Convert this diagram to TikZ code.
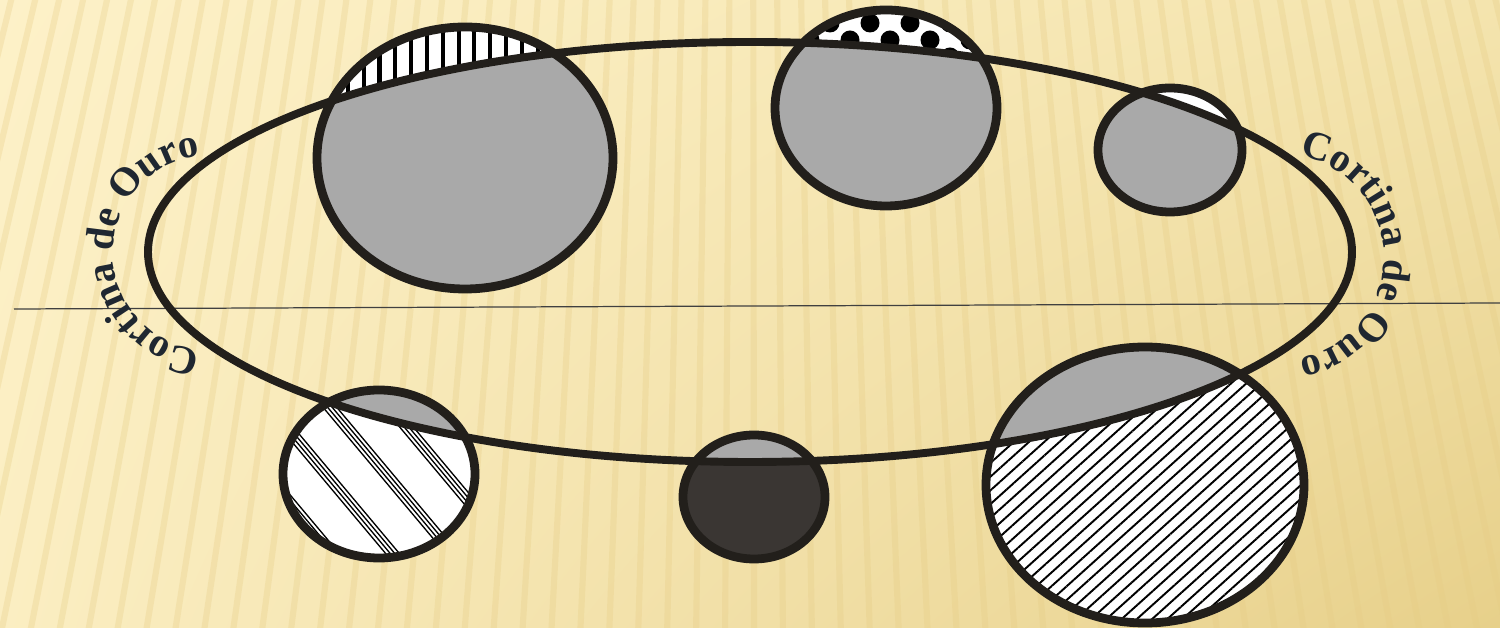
\documentclass[tikz,border=0pt]{standalone}
\usepackage{fontspec}
\newfontfamily\curtainfont{Liberation Serif}
\usepackage{tikz}
\usetikzlibrary{patterns.meta,decorations.text,shadings}
\definecolor{rimblack}{HTML}{221F1B}
\definecolor{capgray}{HTML}{A9A9A9}
\definecolor{darkcap}{HTML}{3A3633}
\definecolor{inkblue}{HTML}{1F2731}
\definecolor{paperUL}{HTML}{FDF1C8}
\definecolor{paperUR}{HTML}{F4E4AE}
\definecolor{paperLL}{HTML}{FBEEC2}
\definecolor{paperLR}{HTML}{E7D08A}
\definecolor{stripegold}{HTML}{E6CC84}
\tikzset{
  rim/.style={draw=rimblack,line width=5pt},
  orbit/.style={draw=rimblack,line width=4.5pt},
  hairline/.style={draw=black!75,line width=.7pt},
  stripe/.style={draw=stripegold,line width=3.5pt,opacity=.3},
  vlines/.style={pattern={Lines[angle=90,distance=9pt,line width=2.3pt]},pattern color=black},
  slines/.style={pattern={Lines[angle=42,distance=5.8pt,line width=1.1pt]},pattern color=black},
  curtain/.style={decorate,decoration={text along path,text align=center,text color=inkblue,
    text={|\curtainfont\bfseries\fontsize{23}{27}\selectfont|Cortina de Ouro}}}
}

\begin{document}
\begin{tikzpicture}[x=0.02cm,y=0.02cm]
  \useasboundingbox (0,0) rectangle (1500,628);
  % paper
  \shade[upper left=paperUL,upper right=paperUR,lower left=paperLL,lower right=paperLR] (0,0) rectangle (1500,628);
  \begin{scope}
    \clip (0,0) rectangle (1500,628);
    \foreach \x in {-232,-203,...,1740}{
      \pgfmathsetmacro\xt{\x+(750-\x)*0.1778}
      \draw[stripe] (\x,-10) -- (\xt,640);
    }
  \end{scope}

  \coordinate (orb) at (750,376);
  \coordinate (c1) at (465,470);
  \coordinate (c2) at (886,520);
  \coordinate (c3) at (1170,478);
  \coordinate (c4) at (379,154);
  \coordinate (c5) at (754,131);
  \coordinate (c6) at (1145,143);
  \coordinate (lineL) at (14,319);
  \coordinate (lineR) at (1500,325);

  \draw[hairline] (lineL) -- (lineR);

  % top left
  \begin{scope}
    \clip (c1) ellipse [x radius=148,y radius=131];
    \fill[white] (c1) ellipse [x radius=148,y radius=131];
    \path[vlines] (c1) ellipse [x radius=148,y radius=131];
    \fill[capgray] (orb) ellipse [x radius=602,y radius=210];
  \end{scope}
  \draw[rim] (c1) ellipse [x radius=148,y radius=131];

  % top middle
  \begin{scope}
    \clip (c2) ellipse [x radius=111,y radius=98];
    \fill[white] (c2) ellipse [x radius=111,y radius=98];
    \foreach \dx/\dy in {830/605,870/605,910/605,950/605,810/588,850/588,890/588,930/588,970/588,830/571,870/571,910/571,950/571}
      \fill[black] (\dx,\dy) circle [radius=9.5];
    \fill[capgray] (orb) ellipse [x radius=602,y radius=210];
  \end{scope}
  \draw[rim] (c2) ellipse [x radius=111,y radius=98];

  % top right
  \begin{scope}
    \clip (c3) ellipse [x radius=72,y radius=62];
    \fill[white] (c3) ellipse [x radius=72,y radius=62];
    \fill[capgray] (orb) ellipse [x radius=602,y radius=210];
  \end{scope}
  \draw[rim] (c3) ellipse [x radius=72,y radius=62];

  % bottom left
  \begin{scope}
    \clip (c4) ellipse [x radius=96,y radius=84];
    \fill[white] (c4) ellipse [x radius=96,y radius=84];
    \begin{scope}[shift={(c4)},rotate=-50]
      \foreach \g in {-3,...,3}
        \foreach \k in {0,...,3}
          \draw[black,line width=.75pt] (-160,\g*46+\k*3.5) -- (160,\g*46+\k*3.5);
    \end{scope}
    \fill[capgray] (orb) ellipse [x radius=602,y radius=210];
  \end{scope}
  \draw[rim] (c4) ellipse [x radius=96,y radius=84];

  % bottom middle
  \begin{scope}
    \clip (c5) ellipse [x radius=71,y radius=62];
    \fill[darkcap] (c5) ellipse [x radius=71,y radius=62];
    \fill[capgray] (orb) ellipse [x radius=602,y radius=210];
  \end{scope}
  \draw[rim] (c5) ellipse [x radius=71,y radius=62];

  % bottom right
  \begin{scope}
    \clip (c6) ellipse [x radius=159,y radius=138];
    \fill[white] (c6) ellipse [x radius=159,y radius=138];
    \path[slines] (c6) ellipse [x radius=159,y radius=138];
    \fill[capgray] (orb) ellipse [x radius=602,y radius=210];
  \end{scope}
  \draw[rim] (c6) ellipse [x radius=159,y radius=138];

  \draw[orbit] (orb) ellipse [x radius=602,y radius=210];

  % curtain labels
  \path[curtain] (211,375) ++(272:98) arc [start angle=272,end angle=88,radius=98];
  \path[curtain] (1281,371) ++(92:103) arc [start angle=92,end angle=-92,radius=103];
\end{tikzpicture}
\end{document}
